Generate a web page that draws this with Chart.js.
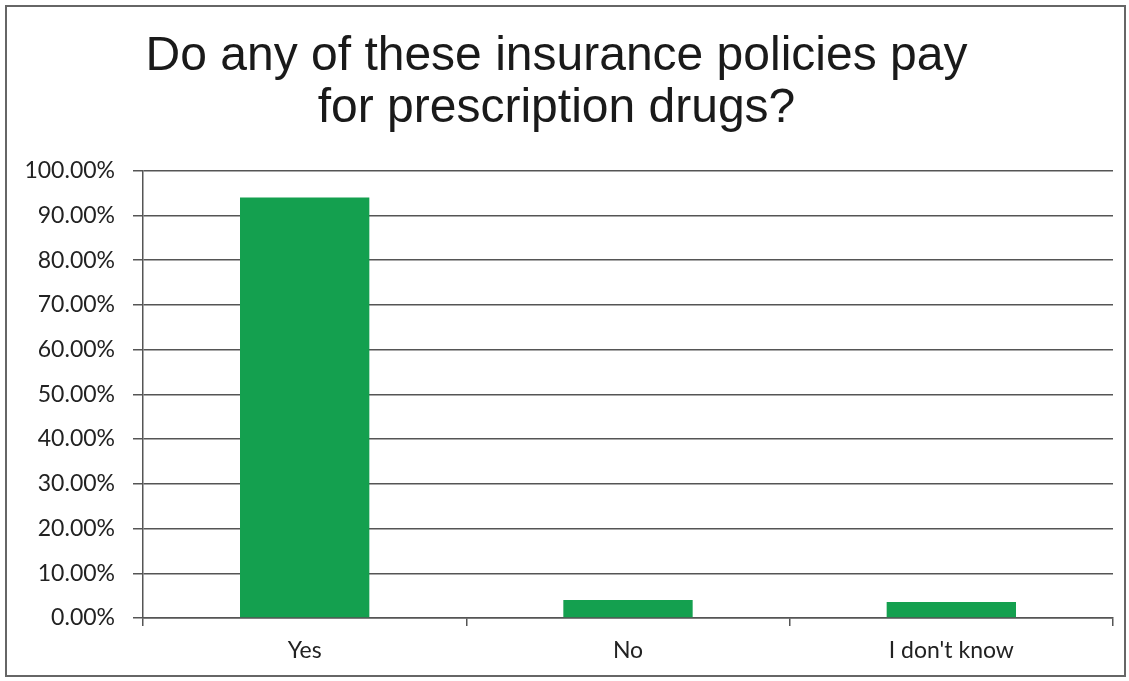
<!DOCTYPE html>
<html>
<head>
<meta charset="utf-8">
<script src="https://cdn.jsdelivr.net/npm/chart.js@4.4.1/dist/chart.umd.min.js"></script>
<style>
  html, body { margin: 0; padding: 0; background: #fff; }
  #wrap { position: relative; width: 1129px; height: 681px; }
</style>
</head>
<body>
<div id="wrap"><canvas id="chart" width="1129" height="681"></canvas></div>
<script>
// chart values
const categories = ['Yes', 'No', "I don't know"];
const shares = [0.94, 0.04, 0.036];
const titleLines = ['Do any of these insurance policies pay', 'for prescription drugs?'];

// outer frame around the whole chart
const framePlugin = {
    id: 'frame',
    beforeDraw(chart) {
        const ctx = chart.ctx;
        ctx.save();
        ctx.fillStyle = '#fff';
        ctx.fillRect(0, 0, chart.width, chart.height);
        ctx.strokeStyle = '#666';
        ctx.lineWidth = 2;
        ctx.strokeRect(6, 6, 1119, 670);
        ctx.restore();
    }
};

const ctx = document.getElementById('chart').getContext('2d');
new Chart(ctx, {
    type: 'bar',
    data: {
        labels: categories,
        datasets: [{
            data: shares,
            backgroundColor: '#14a04f',
            borderWidth: 0,
            categoryPercentage: 1,
            barPercentage: 0.4
        }]
    },
    options: {
        responsive: false,
        animation: false,
        layout: { padding: { left: 0, right: 16, top: 0, bottom: 0 } },
        plugins: {
            legend: { display: false },
            tooltip: { enabled: false },
            title: {
                display: true,
                text: titleLines,
                color: '#1a1a1a',
                font: { family: 'Liberation Sans, Arial, sans-serif', size: 48, weight: 'normal', lineHeight: 1.1 },
                padding: { top: 30, bottom: 35 }
            }
        },
        scales: {
            x: {
                grid: {
                    display: true,
                    drawOnChartArea: false,
                    drawTicks: true,
                    tickLength: 8,
                    color: '#555',
                    lineWidth: 1.5
                },
                border: { color: '#555', width: 1.5 },
                ticks: {
                    color: '#222',
                    padding: 11,
                    font: { family: 'Lato, Open Sans, sans-serif', size: 23 }
                },
                afterFit(scale) { scale.height = 63; }
            },
            y: {
                min: 0,
                max: 1,
                grid: {
                    color: '#555',
                    lineWidth: 1.5,
                    drawTicks: true,
                    tickLength: 10
                },
                border: { color: '#555', width: 1.5 },
                ticks: {
                    stepSize: 0.1,
                    color: '#222',
                    padding: 18,
                    font: { family: 'Lato, Open Sans, sans-serif', size: 23 },
                    callback: v => (v * 100).toFixed(2) + '%'
                },
                afterFit(scale) { scale.width = 143; }
            }
        }
    },
    plugins: [framePlugin]
});
</script>
</body>
</html>
